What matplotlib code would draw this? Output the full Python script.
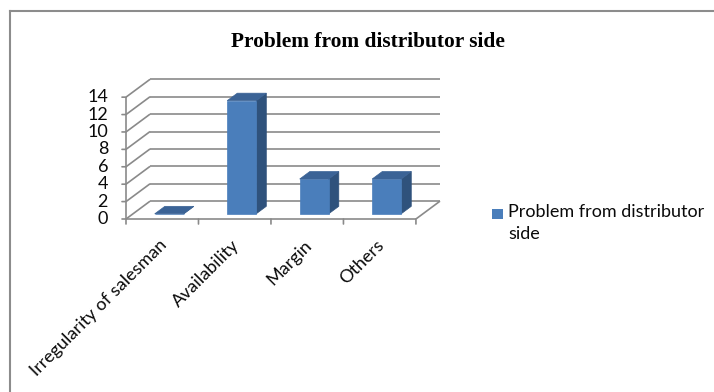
import matplotlib
matplotlib.use("Agg")
import matplotlib.pyplot as plt
from matplotlib.patches import Polygon, Rectangle
from matplotlib.lines import Line2D

categories = ["Irregularity of salesman", "Availability", "Margin", "Others"]
values = [0, 13, 4, 4]
yticks = [0, 2, 4, 6, 8, 10, 12, 14]
series_name = "Problem from distributor\nside"
title = "Problem from distributor side"

# oblique projection of the depth axis, in data units
DX, DY = 0.332, 2.05
BAR_W = 0.4
D0, D1 = 0.29, 0.71

FRONT = "#4a7ebb"
TOP = "#3b6396"
SIDE = "#2f527c"
GRID = "#8a8a8a"

W, H = 714, 392
fig = plt.figure(figsize=(W / 100, H / 100), dpi=100)
fig.patch.set_facecolor("white")

ax = fig.add_axes([126 / W, (H - 219) / H, 314 / W, 139.7 / H])
n = len(categories)
ymax = yticks[-1]
ax.set_xlim(0, n + DX)
ax.set_ylim(0, ymax + DY)
ax.axis("off")


def P(x, y, d):
    return (x + d * DX, y + d * DY)


def seg(p, q, **kw):
    ax.add_line(Line2D([p[0], q[0]], [p[1], q[1]], color=GRID, lw=1.2,
                       clip_on=False, solid_capstyle="butt", **kw))


def tick(xy, off):
    ax.annotate("", xy=xy, xytext=off, textcoords="offset pixels",
                arrowprops=dict(arrowstyle="-", color=GRID, lw=1.2,
                                shrinkA=0, shrinkB=0),
                annotation_clip=False)


# back wall and side wall gridlines
for v in yticks:
    seg(P(0, v, 1), P(n, v, 1))
    seg(P(0, v, 0), P(0, v, 1))
# floor right edge
seg(P(n, 0, 0), P(n, 0, 1))

# bars
for i, v in enumerate(values):
    x0 = i + (1 - BAR_W) / 2
    x1 = x0 + BAR_W
    front = [P(x0, 0, D0), P(x1, 0, D0), P(x1, v, D0), P(x0, v, D0)]
    top = [P(x0, v, D0), P(x1, v, D0), P(x1, v, D1), P(x0, v, D1)]
    side = [P(x1, 0, D0), P(x1, 0, D1), P(x1, v, D1), P(x1, v, D0)]
    for pts, c in ((side, SIDE), (front, FRONT), (top, TOP)):
        ax.add_patch(Polygon(pts, closed=True, facecolor=c, edgecolor=c,
                             lw=0.5, clip_on=False, zorder=3))

# front axes
seg(P(0, 0, 0), P(n, 0, 0), zorder=4)
seg(P(0, 0, 0), P(0, ymax, 0), zorder=4)

tick_font = dict(family=["Lato", "DejaVu Sans"], size=13, color="#0a0a0a")

# y ticks and labels
for v in yticks:
    tick((0, v), (-4, 0))
    ax.annotate(str(v), xy=(0, v), xytext=(-18, 0), textcoords="offset pixels",
                ha="right", va="center", annotation_clip=False, **tick_font)

# x ticks
for i in range(n + 1):
    tick((i, 0), (0, -5))

# category labels
for i, lab in enumerate(categories):
    ax.annotate(lab, xy=(i + 0.5, 0), xytext=(-4, -18), textcoords="offset pixels",
                ha="right", va="top", rotation=45, rotation_mode="anchor",
                annotation_clip=False, **tick_font)

# title
fig.text(368 / W, 1 - 47 / H, title, ha="center", va="baseline",
         family=["Liberation Serif"], weight="bold", size=15.4)

# legend
fig.patches.append(Rectangle((492 / W, 1 - 219 / H), 11 / W, 10 / H,
                             transform=fig.transFigure, facecolor=FRONT,
                             edgecolor="none"))
fig.text(508 / W, 1 - 204 / H, series_name, ha="left", va="top",
         linespacing=1.45, **tick_font)

# chart border
fig.add_artist(Line2D([10 / W, 10 / W], [0, 1 - 10.5 / H], color="#8c8c8c",
                      lw=1.5, transform=fig.transFigure))
fig.add_artist(Line2D([10 / W, 1], [1 - 10.5 / H, 1 - 10.5 / H],
                      color="#8c8c8c", lw=1.5, transform=fig.transFigure))

fig.savefig("out.png", dpi=100)
